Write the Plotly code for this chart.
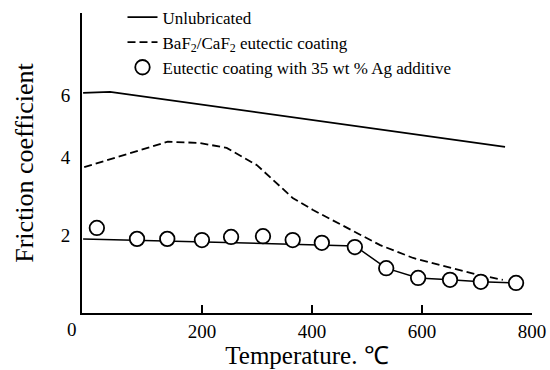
import plotly.graph_objects as go

# Unlubricated (solid line)
unlub_x = [-16, 33, 751]
unlub_y = [5.64, 5.67, 4.26]

# BaF2/CaF2 eutectic coating (dashed line)
eut_x = [-14, 138, 196, 245, 300, 365, 402, 464, 524, 584, 645, 705, 747]
eut_y = [3.74, 4.39, 4.36, 4.23, 3.79, 2.95, 2.64, 2.18, 1.74, 1.41, 1.18, 0.97, 0.85]

# Eutectic coating with 35 wt % Ag additive (circles)
ag_x = [9, 82, 137, 200, 253, 311, 365, 418, 478, 535, 593, 651, 707, 771]
ag_y = [2.18, 1.90, 1.90, 1.87, 1.95, 1.97, 1.87, 1.80, 1.69, 1.15, 0.90, 0.85, 0.80, 0.77]

# Fitted line through Ag data
agfit_x = [-16, 478, 535, 593, 651, 707, 771]
agfit_y = [1.90, 1.72, 1.15, 0.90, 0.85, 0.80, 0.77]

x_tick_vals = [200, 400, 600, 800]
x_tick_text = ["200", "400", "600", "800"]
y_tick_vals = [2, 4, 5.59]
y_tick_text = ["2", "4", "6"]

FONT = "Liberation Serif"

fig = go.Figure()
fig.add_trace(go.Scatter(x=unlub_x, y=unlub_y, mode="lines", name="Unlubricated",
                         line=dict(color="black", width=1.8)))
fig.add_trace(go.Scatter(x=eut_x, y=eut_y, mode="lines",
                         name="BaF<sub>2</sub>/CaF<sub>2</sub> eutectic coating",
                         line=dict(color="black", width=1.8, dash="8px,4px")))
fig.add_trace(go.Scatter(x=agfit_x, y=agfit_y, mode="lines", showlegend=False,
                         line=dict(color="black", width=1.5)))
fig.add_trace(go.Scatter(x=ag_x, y=ag_y, mode="markers",
                         name="Eutectic coating with 35 wt % Ag additive",
                         marker=dict(symbol="circle", size=14.5, color="white",
                                     line=dict(color="black", width=1.8)),
                         cliponaxis=False))

fig.update_layout(
    width=550, height=370,
    margin=dict(l=82, r=18, t=13, b=57, autoexpand=False),
    paper_bgcolor="white", plot_bgcolor="white",
    font=dict(family=FONT, color="black", size=19),
    showlegend=True,
    legend=dict(x=0.09, y=1.045, xanchor="left", yanchor="top",
                bgcolor="rgba(0,0,0,0)", font=dict(size=17, family=FONT),
                tracegroupgap=0, itemwidth=30),
    xaxis=dict(range=[-18, 800], showgrid=False, zeroline=False,
               showline=True, linecolor="black", linewidth=2,
               tickvals=x_tick_vals, ticktext=x_tick_text,
               ticks="inside", ticklen=8, tickwidth=1.5, tickcolor="black",
               tickfont=dict(size=19, family=FONT),
               title=dict(text="Temperature. ℃", font=dict(size=25, family=FONT), standoff=6)),
    yaxis=dict(range=[0, 7.69], showgrid=False, zeroline=False,
               showline=True, linecolor="black", linewidth=2,
               tickvals=y_tick_vals, ticktext=y_tick_text, ticks="",
               ticklabelstandoff=6,
               tickfont=dict(size=19, family=FONT),
               title=dict(text="Friction coefficient", font=dict(size=26, family=FONT), standoff=20)),
)
fig.add_annotation(x=0, y=0, xref="x", yref="paper", text="0", showarrow=False,
                   xshift=-20, yanchor="top", yshift=-4, font=dict(size=19, family=FONT))

fig.write_html("out.html")
